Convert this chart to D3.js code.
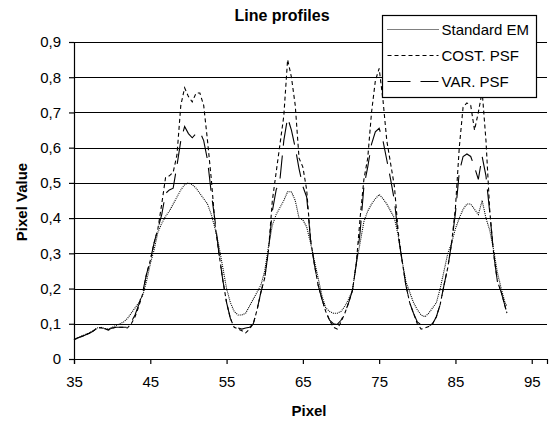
<!DOCTYPE html>
<html>
<head>
<meta charset="utf-8">
<script src="https://cdn.jsdelivr.net/npm/d3@7/dist/d3.min.js"></script>
<style>
  body { margin: 0; background: #fff; }
  text { font-family: "Liberation Sans", Arial, sans-serif; fill: #000; }
</style>
</head>
<body>
<div id="chart"></div>
<script>
// data
var pixelX = [35, 35.5, 36, 36.5, 37, 37.5, 38, 38.5, 39, 39.5, 40, 40.5, 41, 41.5, 42, 42.5, 43, 43.5, 44, 44.5,
  45, 45.5, 46, 46.5, 47, 47.5, 48, 48.5, 49, 49.5, 50, 50.5, 51, 51.5, 52, 52.5, 53, 53.5, 54, 54.5,
  55, 55.5, 56, 56.5, 57, 57.5, 58, 58.5, 59, 59.5, 60, 60.5, 61, 61.5, 62, 62.5, 63, 63.5, 64, 64.5,
  65, 65.5, 66, 66.5, 67, 67.5, 68, 68.5, 69, 69.5, 70, 70.5, 71, 71.5, 72, 72.5, 73, 73.5, 74, 74.5,
  75, 75.5, 76, 76.5, 77, 77.5, 78, 78.5, 79, 79.5, 80, 80.5, 81, 81.5, 82, 82.5, 83, 83.5, 84, 84.5,
  85, 85.5, 86, 86.5, 87, 87.5, 88, 88.5, 89, 89.5, 90, 90.5, 91, 91.5, 91.75];

var standardEM = [.055, .06, .065, .07, .074, .08, .088, .09, .087, .085, .09, .095, .10, .105, .115, .13, .145, .16, .18, .22,
  .27, .31, .36, .385, .405, .42, .44, .46, .48, .495, .50, .495, .485, .47, .455, .44, .41, .37, .32, .26,
  .20, .16, .135, .125, .125, .13, .15, .17, .19, .21, .25, .32, .38, .41, .43, .45, .475, .475, .45, .40,
  .395, .375, .33, .28, .23, .18, .145, .135, .13, .13, .135, .15, .17, .195, .27, .33, .39, .42, .44, .455,
  .467, .455, .44, .42, .40, .35, .28, .22, .19, .16, .14, .125, .12, .13, .145, .16, .20, .25, .30, .33,
  .37, .40, .425, .44, .44, .425, .41, .45, .40, .365, .31, .245, .20, .16, .15];

var costPSF = [.055, .06, .064, .068, .073, .079, .087, .089, .086, .082, .087, .09, .09, .09, .088, .10, .12, .15, .185, .24,
  .28, .33, .37, .44, .515, .52, .53, .58, .72, .77, .745, .73, .755, .755, .72, .62, .51, .38, .30, .225,
  .16, .115, .09, .085, .08, .074, .085, .10, .14, .19, .23, .31, .45, .53, .61, .69, .85, .80, .72, .57,
  .545, .48, .34, .27, .21, .17, .135, .11, .09, .085, .105, .13, .16, .195, .27, .40, .51, .57, .70, .79,
  .825, .735, .62, .555, .49, .36, .28, .21, .16, .13, .10, .085, .088, .092, .10, .12, .155, .21, .26, .33,
  .43, .60, .715, .727, .72, .65, .70, .76, .62, .42, .30, .22, .19, .15, .13];

var varPSF = [.055, .06, .064, .068, .073, .079, .087, .089, .086, .083, .088, .09, .09, .09, .09, .105, .125, .155, .19, .24,
  .28, .33, .37, .41, .47, .48, .485, .55, .62, .66, .64, .628, .64, .645, .62, .565, .47, .39, .30, .225,
  .16, .115, .095, .088, .085, .088, .09, .10, .14, .19, .23, .31, .42, .48, .51, .62, .685, .65, .60, .54,
  .49, .46, .34, .27, .21, .17, .135, .11, .10, .098, .11, .13, .16, .195, .27, .36, .49, .545, .61, .645,
  .655, .62, .565, .51, .45, .35, .28, .21, .16, .13, .105, .097, .095, .093, .10, .12, .155, .21, .26, .33,
  .415, .53, .575, .582, .575, .545, .51, .575, .52, .415, .30, .22, .19, .15, .13];

var seriesNames = ["Standard EM", "COST. PSF", "VAR. PSF"];
var seriesValues = [standardEM, costPSF, varPSF];
var seriesDash = ["1,1", "4,3", "23,10"];

var xTicks = [35, 45, 55, 65, 75, 85, 95];
var yTicks = [0, 0.1, 0.2, 0.3, 0.4, 0.5, 0.6, 0.7, 0.8, 0.9];

// size and margins
var svgWidth = 552;
var svgHeight = 423;
var margin = { top: 42, right: 5, bottom: 64, left: 74 };
var width = svgWidth - margin.left - margin.right;
var height = svgHeight - margin.top - margin.bottom;

var svg = d3.select("#chart")
  .append("svg")
  .attr("width", svgWidth)
  .attr("height", svgHeight);

var chartGroup = svg.append("g")
  .attr("transform", `translate(${margin.left}, ${margin.top})`);

// scales
var xScale = d3.scaleLinear().domain([35, 97]).range([0, width]);
var yScale = d3.scaleLinear().domain([0, 0.9]).range([height, 0]);

var commaFormat = function(d) {
  return d === 0 ? "0" : d3.format(".1f")(d).replace(".", ",");
};

// horizontal gridlines
chartGroup.selectAll(".grid")
  .data(yTicks.filter(d => d > 0))
  .enter()
  .append("line")
  .attr("x1", 0)
  .attr("x2", width)
  .attr("y1", d => Math.round(yScale(d)) + 0.5)
  .attr("y2", d => Math.round(yScale(d)) + 0.5)
  .attr("stroke", "#000")
  .attr("stroke-width", 1);

// axes
var bottomAxis = d3.axisBottom(xScale)
  .tickValues(xTicks)
  .tickSize(5)
  .tickPadding(12)
  .tickFormat(d3.format("d"));

var leftAxis = d3.axisLeft(yScale)
  .tickValues(yTicks)
  .tickSize(5)
  .tickPadding(8)
  .tickFormat(commaFormat);

var xAxis = chartGroup.append("g")
  .attr("transform", `translate(0, ${height})`)
  .call(bottomAxis);

var yAxis = chartGroup.append("g")
  .call(leftAxis);

[xAxis, yAxis].forEach(function(axis) {
  axis.selectAll("path, line").attr("stroke", "#000").attr("stroke-width", 1.2);
  axis.selectAll("text")
    .attr("font-size", "15px")
    .attr("font-family", "'Liberation Sans', Arial, sans-serif")
    .attr("fill", "#000");
});

// lines
var line = d3.line()
  .x((d, i) => xScale(pixelX[i]))
  .y(d => yScale(d));

chartGroup.selectAll(".profile")
  .data(seriesValues)
  .enter()
  .append("path")
  .attr("d", d => line(d))
  .attr("fill", "none")
  .attr("stroke", "#000")
  .attr("stroke-width", 1.1)
  .attr("stroke-dasharray", (d, i) => seriesDash[i]);

// title and axis labels
svg.append("text")
  .attr("x", 282)
  .attr("y", 21)
  .attr("text-anchor", "middle")
  .attr("font-size", "16px")
  .attr("font-weight", "bold")
  .text("Line profiles");

svg.append("text")
  .attr("x", 309)
  .attr("y", 416)
  .attr("text-anchor", "middle")
  .attr("font-size", "15px")
  .attr("font-weight", "bold")
  .text("Pixel");

svg.append("text")
  .attr("transform", "translate(27, 202) rotate(-90)")
  .attr("text-anchor", "middle")
  .attr("font-size", "15px")
  .attr("font-weight", "bold")
  .text("Pixel Value");

// legend
var legend = svg.append("g")
  .attr("transform", "translate(382.5, 15.5)");

legend.append("rect")
  .attr("width", 154)
  .attr("height", 82)
  .attr("fill", "#fff")
  .attr("stroke", "#000")
  .attr("stroke-width", 1.2);

var legendItems = legend.selectAll(".item")
  .data(seriesNames)
  .enter()
  .append("g")
  .attr("transform", (d, i) => `translate(0, ${14 + i * 26})`);

legendItems.append("line")
  .attr("x1", 5)
  .attr("x2", 56)
  .attr("stroke", "#000")
  .attr("stroke-width", 1.1)
  .attr("stroke-dasharray", (d, i) => seriesDash[i]);

legendItems.append("text")
  .attr("x", 59)
  .attr("dy", "0.35em")
  .attr("font-size", "15px")
  .text(d => d);
</script>
</body>
</html>
